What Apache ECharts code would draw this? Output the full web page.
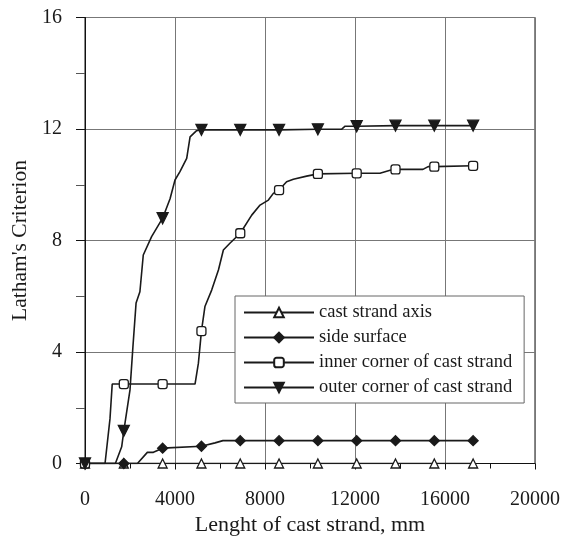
<!DOCTYPE html>
<html>
<head>
<meta charset="utf-8">
<script src="https://cdn.jsdelivr.net/npm/echarts@6/dist/echarts.min.js"></script>
<style>
  html, body { margin: 0; padding: 0; background: #fff; }
  #chart { width: 573px; height: 536px; }
</style>
</head>
<body>
<div id="chart"></div>
<script>
// marker positions along the strand (mm)
const markX = [0, 1725, 3450, 5175, 6900, 8625, 10350, 12075, 13800, 15525, 17250];

// cast strand axis
const axisX = [0, 1725, 3450, 5175, 6900, 8625, 10350, 12075, 13800, 15525, 17250];
const axisY = [0, 0, 0, 0, 0, 0, 0, 0, 0, 0, 0];

// side surface
const sideX = [0, 1725, 2330, 2770, 3040, 3450, 5175, 5780, 6130, 6900, 8625, 10350, 12075, 13800, 15525, 17250];
const sideY = [0, 0, 0, 0.4, 0.4, 0.55, 0.62, 0.74, 0.82, 0.82, 0.82, 0.82, 0.82, 0.82, 0.82, 0.82];

// inner corner of cast strand
const innerX = [0, 890, 1110, 1210, 1725, 3450, 4890, 5040, 5175, 5330, 5630, 5930, 6150, 6440, 6900,
  7410, 7780, 8150, 8370, 8625, 8960, 9260, 9850, 10350, 12075, 13110, 13560, 13800, 15020, 15250, 15525, 17250];
const innerY = [0, 0, 1.6, 2.85, 2.85, 2.85, 2.85, 3.6, 4.75, 5.63, 6.22, 6.94, 7.66, 7.9, 8.26,
  8.91, 9.27, 9.45, 9.69, 9.81, 10.11, 10.2, 10.31, 10.39, 10.41, 10.41, 10.52, 10.55, 10.55, 10.65, 10.65, 10.68];

// outer corner of cast strand
const outerX = [0, 1350, 1630, 1725, 2000, 2130, 2270, 2440, 2590, 2960, 3450, 3780, 4000, 4220, 4520,
  4670, 4960, 5175, 6900, 8625, 10350, 11400, 11560, 12075, 13800, 15525, 17250];
const outerY = [0, 0, 0.6, 1.17, 2.64, 4.19, 5.76, 6.16, 7.48, 8.14, 8.8, 9.5, 10.17, 10.47, 10.95,
  11.72, 11.94, 11.97, 11.97, 11.97, 11.99, 11.99, 12.1, 12.1, 12.12, 12.12, 12.12];

const seriesNames = ['cast strand axis', 'side surface', 'inner corner of cast strand', 'outer corner of cast strand'];

const xTicks = { min: 0, max: 20000, interval: 4000 };
const yTicks = { min: 0, max: 16, interval: 4 };

const serif = 'Liberation Serif';
const ink = '#1a1a1a';

// points on the marker positions get a symbol, the rest are just path
function build(xs, ys) {
  return xs.map((x, i) => markX.includes(x) ? [x, ys[i]] : { value: [x, ys[i]], symbol: 'none' });
}

function lineSeries(name, xs, ys, symbol, size, fill) {
  return {
    name: name,
    type: 'line',
    data: build(xs, ys),
    symbol: symbol,
    symbolSize: size,
    showAllSymbol: true,
    lineStyle: { color: ink, width: 1.6 },
    itemStyle: { color: fill, borderColor: ink, borderWidth: 1.3 },
    emphasis: { disabled: true },
    animation: false
  };
}

const chart = echarts.init(document.getElementById('chart'), null, { renderer: 'canvas' });

const option = {
  backgroundColor: '#fff',
  animation: false,
  grid: {
    left: 85, right: 38, top: 17.5, bottom: 72.5,
    outerBoundsMode: 'none',
    containLabel: false,
    show: true, borderColor: '#111', borderWidth: 1, backgroundColor: 'transparent'
  },
  legend: {
    orient: 'vertical',
    left: 235, top: 296,
    padding: [7, 12, 6, 8],
    itemGap: 6,
    itemWidth: 70,
    itemHeight: 12,
    backgroundColor: '#fff',
    borderColor: '#666',
    borderWidth: 1,
    borderRadius: 0,
    textStyle: { fontFamily: serif, fontSize: 18.5, color: ink },
    data: seriesNames
  },
  xAxis: {
    type: 'value',
    min: xTicks.min, max: xTicks.max, interval: xTicks.interval,
    name: 'Lenght of cast strand, mm',
    nameLocation: 'middle',
    nameGap: 48,
    nameTextStyle: { fontFamily: serif, fontSize: 22, color: ink },
    axisLine: { lineStyle: { color: '#111', width: 1 } },
    axisTick: { show: true, inside: false, length: 6, lineStyle: { color: '#111' } },
    minorTick: { show: true, splitNumber: 2, length: 5, lineStyle: { color: '#111' } },
    axisLabel: { fontFamily: serif, fontSize: 20, color: ink, margin: 26, formatter: v => String(v) },
    splitLine: { show: true, lineStyle: { color: '#777', width: 1 } }
  },
  yAxis: {
    type: 'value',
    min: yTicks.min, max: yTicks.max, interval: yTicks.interval,
    name: "Latham's Criterion",
    nameLocation: 'middle',
    nameGap: 54,
    nameRotate: 90,
    nameTextStyle: { fontFamily: serif, fontSize: 21.5, color: ink },
    axisLine: { show: true, lineStyle: { color: '#111', width: 1 } },
    axisTick: { show: true, inside: false, length: 9, lineStyle: { color: '#111' } },
    minorTick: { show: true, splitNumber: 2, length: 9, lineStyle: { color: '#555' } },
    axisLabel: { fontFamily: serif, fontSize: 20, color: ink, margin: 23 },
    splitLine: { show: true, lineStyle: { color: '#777', width: 1 } }
  },
  series: [
    lineSeries(seriesNames[0], axisX, axisY, 'triangle', 9, '#fff'),
    lineSeries(seriesNames[1], sideX, sideY, 'diamond', 10, ink),
    lineSeries(seriesNames[2], innerX, innerY, 'roundRect', 9, '#fff'),
    lineSeries(seriesNames[3], outerX, outerY, 'path://M0,0 L10,0 L5,9 Z', 11, ink)
  ]
};

chart.setOption(option);
</script>
</body>
</html>
